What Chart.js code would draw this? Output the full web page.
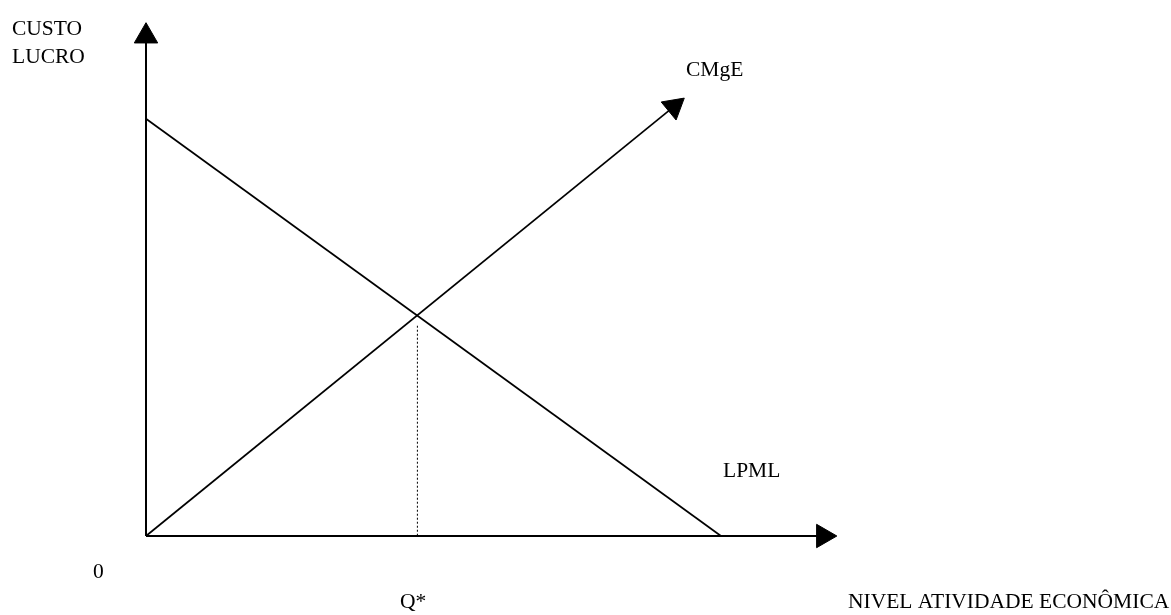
<!DOCTYPE html>
<html>
<head>
<meta charset="utf-8">
<script src="https://cdn.jsdelivr.net/npm/chart.js@4.4.1/dist/chart.umd.min.js"></script>
<style>
html,body{margin:0;padding:0;background:#fff;}
#wrap{position:relative;width:1171px;height:615px;}
</style>
</head>
<body>
<div id="wrap"><canvas id="c"></canvas></div>
<script>
// ---- data (arbitrary units) ----
const yAxisLine = [{x:0,y:0},{x:0,y:119.8}];      // vertical axis, arrow at end
const xAxisLine = [{x:0,y:0},{x:117.8,y:0}];      // horizontal axis, arrow at end
const lpmlLine  = [{x:0,y:100},{x:100,y:0}];      // LPML
const cmgeLine  = [{x:0,y:0},{x:91.8,y:102.9}];   // CMgE, arrow at end
const qStarLine = [{x:47.2,y:50.4},{x:47.2,y:0}]; // dotted line at Q*
const labelTexts = ['CUSTO','LUCRO','CMgE','LPML','0','Q*','NIVEL ATIVIDADE ECONÔMICA'];

// ---- layout (pixel positions of labels) ----
const labelPos = [[12,35],[12,63],[686,76],[723,477],[93,578],[400,608],[848,608]];
const FONT = '21.5px "Liberation Serif", "Times New Roman", serif';

const labelPlugin = {
  id:'labels',
  afterDraw(chart){
    const ctx = chart.ctx;
    ctx.save();
    ctx.fillStyle = '#000';
    ctx.font = FONT;
    ctx.textBaseline = 'alphabetic';
    labelTexts.forEach((t,i)=>ctx.fillText(t,labelPos[i][0],labelPos[i][1]));
    ctx.restore();
  }
};

function ds(data, width, arrowRot, dash){
  return {
    data, borderColor:'#000', borderWidth:width, borderDash: dash||[],
    backgroundColor:'#000', pointBackgroundColor:'#000', pointBorderColor:'#000',
    pointBorderWidth:1, pointStyle:'triangle',
    pointRadius: arrowRot===null ? 0 : [0,13.5],
    pointHoverRadius: arrowRot===null ? 0 : [0,13.5],
    rotation: arrowRot===null ? 0 : arrowRot,
    tension:0, fill:false, clip:false
  };
}

new Chart(document.getElementById('c'), {
  type:'line',
  data:{ datasets:[
    ds(yAxisLine, 2, 0),
    ds(xAxisLine, 2, 90),
    ds(lpmlLine, 1.7, null),
    ds(cmgeLine, 1.7, 50.5),
    ds(qStarLine, 1, null, [2,2])
  ]},
  options:{
    responsive:true, maintainAspectRatio:false, animation:false,
    layout:{padding:{left:146,right:162.5,top:7.25,bottom:79}},
    plugins:{legend:{display:false},tooltip:{enabled:false}},
    events:[],
    scales:{
      x:{type:'linear',min:0,max:150,display:false},
      y:{type:'linear',min:0,max:125,display:false}
    }
  },
  plugins:[labelPlugin]
});
</script>
</body>
</html>
